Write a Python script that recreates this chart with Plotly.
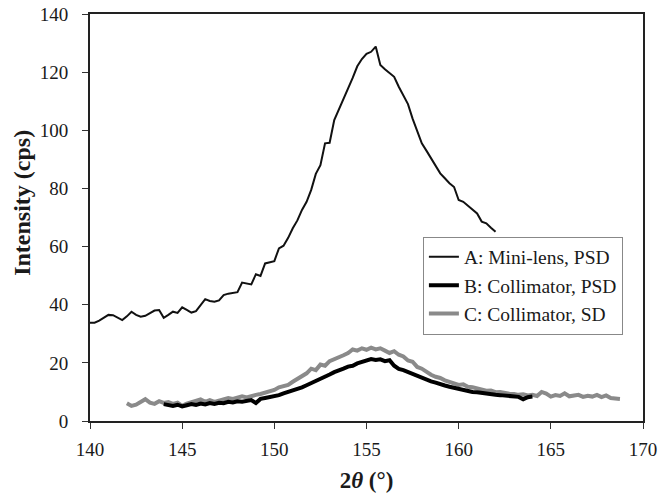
import plotly.graph_objects as go

# Series A: Mini-lens, PSD (2theta step 0.25 from 140 to 162)
a_x = [140.00, 140.25, 140.50, 140.75, 141.00, 141.25, 141.50, 141.75, 142.00, 142.25,
       142.50, 142.75, 143.00, 143.25, 143.50, 143.75, 144.00, 144.25, 144.50, 144.75,
       145.00, 145.25, 145.50, 145.75, 146.00, 146.25, 146.50, 146.75, 147.00, 147.25,
       147.50, 147.75, 148.00, 148.25, 148.50, 148.75, 149.00, 149.25, 149.50, 149.75,
       150.00, 150.25, 150.50, 150.75, 151.00, 151.25, 151.50, 151.75, 152.00, 152.25,
       152.50, 152.75, 153.00, 153.25, 153.50, 153.75, 154.00, 154.25, 154.50, 154.75,
       155.00, 155.25, 155.50, 155.75, 156.00, 156.25, 156.50, 156.75, 157.00, 157.25,
       157.50, 157.75, 158.00, 158.25, 158.50, 158.75, 159.00, 159.25, 159.50, 159.75,
       160.00, 160.25, 160.50, 160.75, 161.00, 161.25, 161.50, 161.75, 162.00]
a_y = [33.8, 33.8, 34.5, 35.5, 36.5, 36.4, 35.5, 34.7, 36.0, 37.6,
       36.5, 35.9, 36.2, 37.0, 38.0, 38.2, 35.5, 36.5, 37.6, 37.2,
       39.1, 38.2, 37.3, 37.8, 40.0, 41.9, 41.3, 41.0, 41.5, 43.3,
       43.8, 44.0, 44.3, 47.6, 47.2, 47.0, 50.5, 49.9, 54.2, 54.6,
       55.0, 59.4, 60.3, 63.0, 66.3, 69.0, 72.6, 75.4, 79.5, 85.0,
       88.0, 95.5, 95.7, 103.5, 107.0, 110.5, 114.4, 118.0, 122.0, 124.5,
       126.3, 127.0, 128.8, 122.5, 121.0, 119.8, 118.4, 115.0, 112.0, 109.0,
       104.0, 100.0, 95.5, 93.0, 90.5, 88.0, 85.2, 83.5, 81.8, 80.5,
       76.0, 75.4, 74.0, 72.8, 71.4, 68.6, 68.0, 66.5, 65.1]

# Series B: Collimator, PSD (144 to 164)
b_x = [144.00, 144.25, 144.50, 144.75, 145.00, 145.25, 145.50, 145.75, 146.00, 146.25,
       146.50, 146.75, 147.00, 147.25, 147.50, 147.75, 148.00, 148.25, 148.50, 148.75,
       149.00, 149.25, 149.50, 149.75, 150.00, 150.25, 150.50, 150.75, 151.00, 151.25,
       151.50, 151.75, 152.00, 152.25, 152.50, 152.75, 153.00, 153.25, 153.50, 153.75,
       154.00, 154.25, 154.50, 154.75, 155.00, 155.25, 155.50, 155.75, 156.00, 156.25,
       156.50, 156.75, 157.00, 157.25, 157.50, 157.75, 158.00, 158.25, 158.50, 158.75,
       159.00, 159.25, 159.50, 159.75, 160.00, 160.25, 160.50, 160.75, 161.00, 161.25,
       161.50, 161.75, 162.00, 162.25, 162.50, 162.75, 163.00, 163.25, 163.50, 163.75,
       164.00]
b_y = [5.8, 5.5, 5.2, 5.6, 5.0, 5.4, 5.8, 5.5, 6.0, 5.7,
       6.2, 5.9, 6.3, 6.1, 6.6, 6.4, 6.8, 6.6, 7.0, 7.2,
       6.2, 7.6, 7.9, 8.2, 8.6, 8.9, 9.5, 10.0, 10.3, 11.0,
       11.6, 12.3, 13.0, 13.6, 14.6, 15.2, 16.0, 16.8, 17.3, 18.0,
       18.7, 19.0, 19.8, 20.2, 20.8, 21.3, 21.0, 21.2, 20.6, 20.9,
       19.0, 17.9, 17.5, 16.8, 16.4, 15.5, 15.0, 14.3, 13.6, 13.2,
       12.6, 12.2, 11.8, 11.4, 11.1, 10.6, 10.4, 10.0, 9.9, 9.6,
       9.4, 9.2, 9.0, 8.9, 8.8, 8.6, 8.5, 8.3, 7.5, 8.2,
       8.4]

# Series C: Collimator, SD (142 to 168.75)
c_x = [142.00, 142.25, 142.50, 142.75, 143.00, 143.25, 143.50, 143.75, 144.00, 144.25,
       144.50, 144.75, 145.00, 145.25, 145.50, 145.75, 146.00, 146.25, 146.50, 146.75,
       147.00, 147.25, 147.50, 147.75, 148.00, 148.25, 148.50, 148.75, 149.00, 149.25,
       149.50, 149.75, 150.00, 150.25, 150.50, 150.75, 151.00, 151.25, 151.50, 151.75,
       152.00, 152.25, 152.50, 152.75, 153.00, 153.25, 153.50, 153.75, 154.00, 154.25,
       154.50, 154.75, 155.00, 155.25, 155.50, 155.75, 156.00, 156.25, 156.50, 156.75,
       157.00, 157.25, 157.50, 157.75, 158.00, 158.25, 158.50, 158.75, 159.00, 159.25,
       159.50, 159.75, 160.00, 160.25, 160.50, 160.75, 161.00, 161.25, 161.50, 161.75,
       162.00, 162.25, 162.50, 162.75, 163.00, 163.25, 163.50, 163.75, 164.00, 164.25,
       164.50, 164.75, 165.00, 165.25, 165.50, 165.75, 166.00, 166.25, 166.50, 166.75,
       167.00, 167.25, 167.50, 167.75, 168.00, 168.25, 168.50, 168.75]
c_y = [6.1, 5.2, 5.6, 6.4, 7.5, 6.3, 5.9, 6.8, 6.2, 6.5,
       5.9, 6.3, 5.2, 6.0, 6.4, 6.9, 7.4, 6.6, 7.2, 6.6,
       7.0, 7.5, 7.9, 7.6, 8.1, 8.5, 8.1, 8.7, 9.0, 9.3,
       9.8, 10.2, 10.7, 11.6, 12.0, 12.4, 13.5, 14.5, 15.8, 16.4,
       18.0, 17.5, 19.4, 19.0, 20.6, 21.2, 22.0, 22.6, 23.4, 24.6,
       24.2, 25.0, 24.5, 25.2, 24.6, 25.0, 24.2, 23.4, 24.0, 22.8,
       22.2, 20.8, 20.4, 18.6, 18.0, 16.9, 15.9, 15.2, 14.8, 14.0,
       13.5, 12.9, 12.4, 12.6, 11.8, 11.6, 11.2, 11.0, 10.4, 10.5,
       9.9, 10.0, 9.6, 9.4, 9.3, 9.0, 9.2, 8.8, 9.0, 8.6,
       10.0, 9.4, 8.4, 8.9, 8.6, 9.5, 8.5, 8.8, 9.0, 8.3,
       8.7, 8.4, 9.0, 8.2, 8.8, 7.9, 7.7, 7.6]

x_ticks = [140, 145, 150, 155, 160, 165, 170]
y_ticks = [0, 20, 40, 60, 80, 100, 120, 140]

FONT = "Liberation Serif"
TXT = "#1a1a1a"

fig = go.Figure()
fig.add_trace(go.Scatter(x=a_x, y=a_y, mode="lines", name="A: Mini-lens, PSD",
                         line=dict(color="#111111", width=2), legendrank=1))
fig.add_trace(go.Scatter(x=c_x, y=c_y, mode="lines", name="C: Collimator, SD",
                         line=dict(color="#8a8a8a", width=4), legendrank=3))
fig.add_trace(go.Scatter(x=b_x, y=b_y, mode="lines", name="B: Collimator, PSD",
                         line=dict(color="#000000", width=4), legendrank=2))

axis_common = dict(ticks="outside", ticklen=6, tickcolor="#333", showline=True,
                   linecolor="#222", linewidth=2, mirror=True, showgrid=False,
                   zeroline=False, automargin=False, ticklabeloverflow="allow",
                   tickfont=dict(family=FONT, size=19, color=TXT))

fig.update_layout(
    width=669, height=493,
    margin=dict(l=90, r=26, t=14, b=72),
    paper_bgcolor="white", plot_bgcolor="white",
    font=dict(family=FONT, size=19, color=TXT),
    legend=dict(x=0.602, y=0.453, xanchor="left", yanchor="top",
                bgcolor="white", bordercolor="#888888", borderwidth=1,
                font=dict(family=FONT, size=19.5, color=TXT),
                tracegroupgap=0, itemwidth=30),
    xaxis=dict(range=[140, 170], tickvals=x_ticks, ticklabelstandoff=4,
               title=dict(text="<b>2<i>θ</i> (°)</b>", standoff=13,
                          font=dict(family=FONT, size=23, color=TXT)),
               **axis_common),
    yaxis=dict(range=[0, 140], tickvals=y_ticks, ticklabelstandoff=10,
               **axis_common),
    annotations=[dict(text="<b>Intensity (cps)</b>", textangle=-90,
                      xref="paper", yref="paper", x=-0.123, y=0.536,
                      xanchor="center", yanchor="middle", showarrow=False,
                      font=dict(family=FONT, size=24, color=TXT))],
)

# remove the browser's default 8px body margin so the figure sits at the page corner
fig.write_html("out.html", config={"displayModeBar": False},
               post_script="document.body.style.margin='0px';")
